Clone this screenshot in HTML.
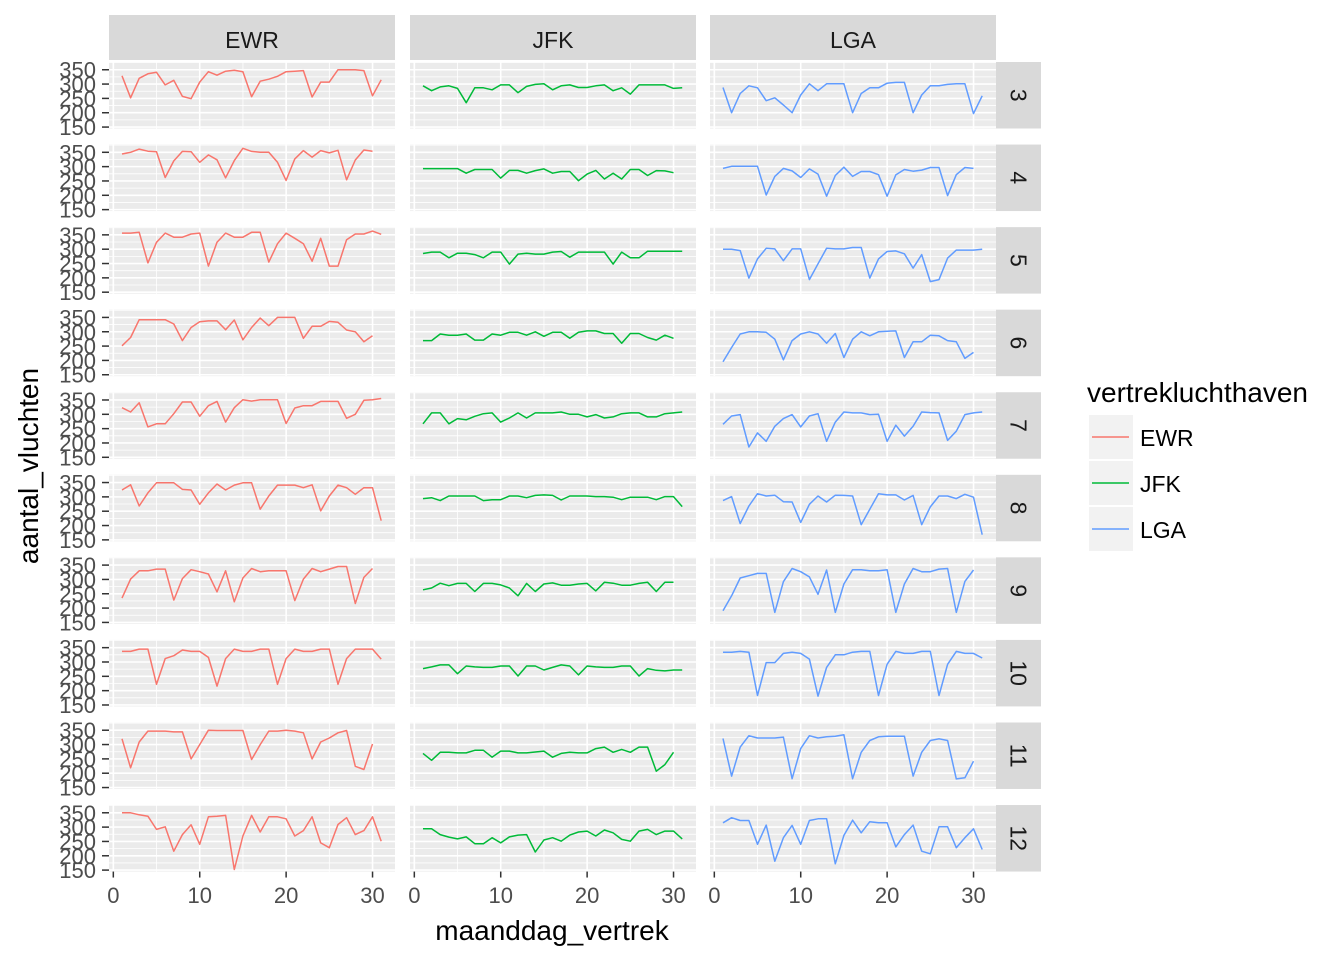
<!DOCTYPE html>
<html><head><meta charset="utf-8"><title>Flights per day facet chart</title>
<style>
html,body{margin:0;padding:0;background:#fff;}
svg{display:block;font-family:"Liberation Sans",Arial,sans-serif;}
</style></head>
<body>
<svg id="chart" width="1344" height="960" viewBox="0 0 1344 960"></svg>
<script>
const airports = ["EWR","JFK","LGA"];
const months = [3,4,5,6,7,8,9,10,11,12];
const colors = ["#F8766D","#00BA38","#619CFF"];
const yTicks = [150,200,250,300,350];
const xTicks = [0,10,20,30];

const ewr3 = [329,252,320,336,341,297,313,257,249,307,343,331,345,348,343,256,310,317,327,343,345,347,255,307,307,350,350,350,347,259,315];
const ewr4 = [344,350,361,354,352,262,320,353,352,315,341,324,261,321,364,353,350,350,315,252,327,356,333,356,348,357,254,323,358,354];
const ewr5 = [356,356,359,252,324,356,342,342,353,356,241,324,356,342,342,359,359,255,319,356,338,319,258,338,241,241,333,353,353,363,352];
const ewr6 = [251,280,342,342,342,342,327,269,315,335,338,338,307,341,272,315,348,321,350,350,350,277,319,319,336,333,306,300,265,286];
const ewr7 = [323,308,340,256,267,267,302,343,343,293,330,345,273,323,351,346,351,351,351,268,322,330,330,345,345,345,286,300,349,351,355];
const ewr8 = [324,342,268,314,349,349,349,326,324,274,314,345,324,341,349,349,257,303,341,341,341,332,342,251,303,341,332,309,332,332,217];
const ewr9 = [235,301,330,330,336,336,228,303,334,327,319,257,330,222,305,338,327,330,330,330,226,301,338,327,336,345,345,216,307,338];
const ewr10 = [337,337,345,345,222,312,322,342,337,337,316,216,312,345,337,337,345,345,222,312,345,337,337,345,345,222,312,345,345,345,310];
const ewr11 = [320,219,309,347,347,347,344,344,250,300,350,349,349,349,349,248,300,347,347,350,347,341,250,309,323,341,349,224,213,302];
const ewr12 = [350,350,343,338,292,301,216,274,308,240,336,338,341,152,269,341,283,336,336,329,269,288,336,245,228,309,333,274,288,336,251];

const jfk3 = [294,277,290,294,285,235,287,287,280,297,297,270,292,299,301,280,294,297,288,288,294,297,277,287,265,297,297,297,297,285,287];
const jfk4 = [293,293,293,293,293,277,290,290,290,260,287,287,277,286,292,277,283,283,251,274,287,257,277,257,290,290,269,286,285,279];
const jfk5 = [285,290,290,270,286,286,281,270,290,290,248,283,286,283,283,290,292,272,290,290,290,290,248,290,270,270,293,293,293,293,293];
const jfk6 = [269,269,292,288,288,292,271,271,292,288,298,298,288,300,284,298,298,277,298,303,303,294,294,260,294,294,280,271,288,277];
const jfk7 = [267,305,305,267,285,281,293,302,305,273,287,305,287,305,305,305,308,300,300,291,299,287,291,302,305,305,291,291,302,305,308];
const jfk8 = [294,297,287,303,303,303,303,287,290,290,303,303,297,305,307,305,289,303,303,303,301,301,299,290,299,299,299,290,301,301,266];
const jfk9 = [264,270,287,278,286,286,258,286,286,281,270,243,286,258,284,288,280,280,284,286,260,290,287,280,280,286,290,258,290,290];
const jfk10 = [277,283,290,290,259,286,283,281,281,286,286,251,286,286,272,281,290,286,255,286,283,281,281,286,286,251,277,271,269,272,272];
const jfk11 = [269,245,273,273,271,271,280,280,256,277,277,271,271,274,277,256,269,273,271,271,286,291,273,283,273,291,291,207,230,273];
const jfk12 = [294,294,274,265,259,266,242,242,263,245,266,272,274,213,255,263,251,272,283,286,269,290,280,257,251,286,292,274,286,286,259];

const lga3 = [288,200,267,294,287,242,252,227,200,262,301,277,301,301,301,200,267,287,287,303,306,306,200,262,294,294,299,301,301,197,259];
const lga4 = [294,301,301,301,301,201,266,294,285,262,292,274,197,269,298,266,283,283,272,197,271,290,284,288,297,297,199,272,297,294];
const lga5 = [300,300,295,199,266,303,301,260,301,301,194,249,303,301,301,306,306,199,266,292,294,284,234,281,187,194,269,297,297,297,300];
const lga6 = [195,245,292,300,300,298,274,202,269,292,300,292,260,294,210,274,300,286,300,302,303,210,265,265,288,286,269,265,207,228];
const lga7 = [265,294,299,186,235,206,258,285,299,256,294,302,206,273,308,305,305,299,300,206,262,224,258,308,306,305,209,241,299,305,308];
const lga8 = [287,301,207,268,311,303,306,283,282,211,274,303,282,306,305,303,203,257,311,307,307,289,305,203,265,303,303,294,309,299,168];
const lga9 = [191,243,305,313,321,321,185,292,338,327,309,248,333,185,284,334,334,330,330,334,185,284,338,327,327,336,338,185,293,333];
const lga10 = [334,334,337,334,183,298,298,330,334,330,310,181,281,325,325,334,337,337,183,292,337,330,330,337,337,183,292,337,330,330,314];
const lga11 = [321,190,291,331,323,323,323,326,181,286,331,323,327,329,334,181,273,314,327,329,329,329,190,273,314,320,314,180,184,242];
const lga12 = [315,333,323,323,240,307,181,263,306,240,323,329,329,172,271,324,280,319,315,315,231,274,307,216,207,301,301,228,263,294,222];

const seriesByAirport = [
  [ewr3,ewr4,ewr5,ewr6,ewr7,ewr8,ewr9,ewr10,ewr11,ewr12],
  [jfk3,jfk4,jfk5,jfk6,jfk7,jfk8,jfk9,jfk10,jfk11,jfk12],
  [lga3,lga4,lga5,lga6,lga7,lga8,lga9,lga10,lga11,lga12]
];

const NS = "http://www.w3.org/2000/svg";
const svg = document.getElementById("chart");
function mk(tag, attrs, parent){
  const e = document.createElementNS(NS, tag);
  for (const k in attrs) e.setAttribute(k, attrs[k]);
  (parent||svg).appendChild(e);
  return e;
}
const panelX = [109,410,710];
const panelW = 286;
const rowTop0 = 62, rowStep = 82.56, panelH = 66.5;
const xMin = -0.5, xMax = 32.6, yMin = 145, yMax = 377;
function sx(col, d){ return panelX[col] + (d - xMin) / (xMax - xMin) * panelW; }
function sy(row, v){ const t = rowTop0 + row*rowStep; return t + panelH - (v - yMin)/(yMax - yMin)*panelH; }

airports.forEach((a,c)=>{
  const r = mk("rect",{x:panelX[c],y:15,width:panelW,height:45,fill:"#D9D9D9"});
  
  
  const t = mk("text",{x:panelX[c]+panelW/2,y:48,"text-anchor":"middle","font-size":"23",fill:"#1A1A1A"});
  t.textContent = a;
  
  
});

months.forEach((m,row)=>{
  const top = rowTop0 + row*rowStep;
  const rs = mk("rect",{x:996,y:top,width:45,height:panelH,fill:"#D9D9D9"});
  
  
  const rt = mk("text",{x:0,y:0,"text-anchor":"middle","font-size":"23",fill:"#1A1A1A",transform:`translate(1010.5,${top+panelH/2}) rotate(90)`});
  rt.textContent = String(m);
  
  
  yTicks.forEach(v=>{
    const y = sy(row,v);
    const tl = mk("text",{x:96,y:y+8,"text-anchor":"end","font-size":"22",fill:"#4D4D4D"});
    tl.textContent = String(v);
    
    
    mk("line",{x1:102,x2:109,y1:y,y2:y,stroke:"#333","stroke-width":1.5});
  });
  airports.forEach((a,col)=>{
    const g = mk("g",{});
    
    
    mk("rect",{x:panelX[col],y:top,width:panelW,height:panelH,fill:"#EBEBEB"},g);
    [175,225,275,325,375].forEach(v=>{ const y=sy(row,v); if(y>=top) mk("line",{x1:panelX[col],x2:panelX[col]+panelW,y1:y,y2:y,stroke:"#fff","stroke-width":0.8},g); });
    [5,15,25].forEach(d=>{ const x=sx(col,d); mk("line",{x1:x,x2:x,y1:top,y2:top+panelH,stroke:"#fff","stroke-width":0.8},g); });
    yTicks.forEach(v=>{ const y=sy(row,v); mk("line",{x1:panelX[col],x2:panelX[col]+panelW,y1:y,y2:y,stroke:"#fff","stroke-width":1.6},g); });
    xTicks.forEach(d=>{ const x=sx(col,d); mk("line",{x1:x,x2:x,y1:top,y2:top+panelH,stroke:"#fff","stroke-width":1.6},g); });
    const vals = seriesByAirport[col][row];
    const pts = vals.map((v,i)=>sx(col,i+1).toFixed(1)+","+sy(row,v).toFixed(1)).join(" ");
    const pl = mk("polyline",{points:pts,fill:"none",stroke:colors[col],"stroke-width":1.5,"stroke-linejoin":"round"},g);
    
    
  });
});

const lastBottom = rowTop0 + 9*rowStep + panelH;
airports.forEach((a,col)=>{
  xTicks.forEach(d=>{
    const x = sx(col,d);
    mk("line",{x1:x,x2:x,y1:lastBottom,y2:lastBottom+6,stroke:"#333","stroke-width":1.5});
    const t = mk("text",{x:x,y:903,"text-anchor":"middle","font-size":"22",fill:"#4D4D4D"});
    t.textContent = String(d);
    
    
  });
});

const xt = mk("text",{x:552,y:940,"text-anchor":"middle","font-size":"28",fill:"#000"});
xt.textContent = "maanddag_vertrek";


const yt = mk("text",{x:0,y:0,"text-anchor":"middle","font-size":"28",fill:"#000",transform:"translate(38,466) rotate(-90)"});
yt.textContent = "aantal_vluchten";



const lt = mk("text",{x:1087,y:402,"font-size":"28",fill:"#000"});
lt.textContent = "vertrekluchthaven";


airports.forEach((a,i)=>{
  const y0 = 415 + i*46;
  const g = mk("g",{});
  
  
  mk("rect",{x:1089,y:y0,width:44,height:44,fill:"#F2F2F2"},g);
  mk("line",{x1:1092,x2:1129,y1:y0+22,y2:y0+22,stroke:colors[i],"stroke-width":1.6},g);
  const t = mk("text",{x:1140,y:y0+31,"font-size":"23",fill:"#000"},g);
  t.textContent = a;
});
</script>
</body></html>
